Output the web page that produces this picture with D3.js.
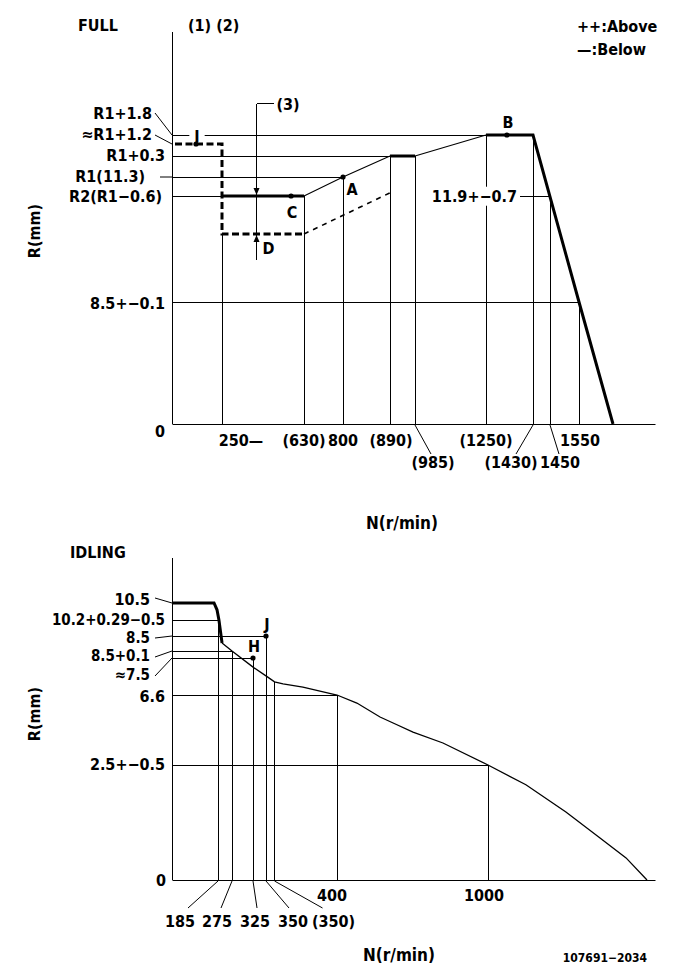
<!DOCTYPE html>
<html><head><meta charset="utf-8">
<script src="https://cdn.jsdelivr.net/npm/d3@7"></script>
<style>
body{margin:0;background:#fff}
text{font-family:"DejaVu Sans Condensed","DejaVu Sans",sans-serif;font-stretch:condensed;font-weight:bold;font-size:16px;fill:#000}
</style></head>
<body><svg id="c" width="681" height="979"></svg>
<script>
// ---------------- DATA ----------------
// FULL chart
const fullTickN      = [250, 630, 800, 890, 985, 1250, 1430, 1450, 1550];
const fullTickLabels = ["250—", "(630)", "800", "(890)", "(985)", "(1250)", "(1430)", "1450", "1550"];
const fullTickTopR   = [10.1, 10.7, 11.3, 11.6, 11.6, 13.1, 13.1, null, 8.5]; // null = meets curve
const fullLevelR      = [13.1, 12.5, 11.6, 11.3, 10.7, 8.5];
const fullLevelLabels = ["R1+1.8", "≈R1+1.2", "R1+0.3", "R1(11.3)", "R2(R1−0.6)", "8.5+−0.1"];
const fullLevelToN    = [1250, null, 890, 800, 250, 1550];
const fullCurveN = [250, 630, 800, 890, 985, 1250, 1430, 1550, 1660];
const fullCurveR = [10.7, 10.7, 11.3, 11.6, 11.6, 13.1, 13.1, 8.5, 0];
const fullDashN  = [15, 250, 250, 630, 890];
const fullDashR  = [12.5, 12.5, 10.1, 10.1, 10.8];
const fullPointNames = ["I", "C", "A", "B"];
const fullPointN     = [120, 570, 800, 1330];
const fullPointR     = [12.5, 10.7, 11.3, 13.1];
const fullDroopLabel = {n: 1450, text: "11.9+−0.7"};
const fullArrowN = 410, fullArrowTopR = 15.2, fullArrowBotR = 9.5;

// IDLING chart
const idleTickN      = [185, 275, 325, 350, 356, 400, 1000];
const idleTickLabels = ["185", "275", "325", "350", "(350)", "400", "1000"];
const idleTickTopR   = [10.2, 8.2, 7.5, 8.5, 6.92, 6.6, 2.5];
const idleLevelR      = [10.5, 10.2, 8.5, 8.2, 7.5, 6.6, 2.5];
const idleLevelLabels = ["10.5", "10.2+0.29−0.5", "8.5", "8.5+0.1", "≈7.5", "6.6", "2.5+−0.5"];
const idleLevelToN    = [null, 185, 350, 275, 325, 400, 1000];
const idleCurveN = [0, 169, 181, 191, 211, 275, 327, 351, 356, 362, 376, 400, 479, 571, 623, 702, 821, 1000, 1143, 1294, 1419, 1521, 1600];
const idleCurveR = [10.5, 10.5, 10.38, 10.2, 8.36, 8.2, 7.26, 7.04, 6.92, 6.87, 6.79, 6.6, 6.13, 5.31, 4.96, 4.43, 3.79, 2.5, 2.07, 1.48, 0.93, 0.48, 0];
const idleThickUntilN = 211;
const idlePointNames = ["H", "J"];
const idlePointN     = [325, 350];
const idlePointR     = [7.5, 8.5];

// ---------------- LAYOUT ----------------
const L = {
  full: {xN:[0,250,630,800,890,985,1250,1430,1450,1550,1660,1800],
         xPx:[172,222,304,343,390,415,486,533,550,579,613,655],
         yR:[0,8.5,10.1,10.7,11.3,11.6,12.5,13.1],
         yPx:[424,302,234,196,177,156,144,135], top:32},
  idle: {xN:[0,185,275,325,350,400,1000,1600,1640],
         xPx:[172,218,232,253,266,337,488,647,655],
         yR:[0,2.5,6.6,7.5,8.2,8.5,10.2,10.5],
         yPx:[880,765,695,658,651,636,620,603], top:558}
};
const fullLevelLayout = [
  {end:152, dy:-16, leader:[155,-22]},
  {end:152, dy:-4,  leader:[155,-9]},
  {end:165, dy:5},
  {end:145, dy:5,   leader:[160,0]},
  {end:162, dy:6},
  {end:165, dy:7}
];
const idleLevelLayout = [
  {end:150, dy:2,  leader:[155,-5]},
  {end:165, dy:5,  size:15},
  {end:150, dy:7,  leader:[155,2], size:15},
  {end:150, dy:10, leader:[155,6], size:15},
  {end:150, dy:22, leader:[155,18], size:15},
  {end:165, dy:7},
  {end:165, dy:5}
];
const fullTickLayout = [
  {row:0, dx:19}, {row:0, dx:0}, {row:0, dx:0}, {row:0, dx:1}, {row:1, dx:18, ldx:16},
  {row:0, dx:0}, {row:1, dx:-22, ldx:-17}, {row:1, dx:10, ldx:9}, {row:0, dx:1}
];
const idleTickLayout = [
  {row:1, dx:-38, ldx:-30}, {row:1, dx:-15, ldx:-11}, {row:1, dx:2, ldx:4},
  {row:1, dx:27, ldx:23}, {row:1, dx:59, ldx:48}, {row:0, dx:-5}, {row:0, dx:-4}
];

// ---------------- DRAW ----------------
const svg = d3.select("#c");
const THICK = 3, THIN = 1.1;

const fx = d3.scaleLinear().domain(L.full.xN).range(L.full.xPx);
const fy = d3.scaleLinear().domain(L.full.yR).range(L.full.yPx);
const ix = d3.scaleLinear().domain(L.idle.xN).range(L.idle.xPx);
const iy = d3.scaleLinear().domain(L.idle.yR).range(L.idle.yPx);

function hline(g, x1, x2, y, w) {
  g.append("line").attr("x1", x1).attr("x2", x2).attr("y1", y).attr("y2", y)
   .attr("stroke", "#000").attr("stroke-width", w || 1).attr("shape-rendering", "crispEdges");
}
function vline(g, x, y1, y2, w) {
  g.append("line").attr("x1", x).attr("x2", x).attr("y1", y1).attr("y2", y2)
   .attr("stroke", "#000").attr("stroke-width", w || 1).attr("shape-rendering", "crispEdges");
}
function sline(g, x1, y1, x2, y2, w) {
  g.append("line").attr("x1", x1).attr("y1", y1).attr("x2", x2).attr("y2", y2)
   .attr("stroke", "#000").attr("stroke-width", w || 1);
}
function txt(g, x, y, s, anchor, size) {
  return g.append("text").attr("x", x).attr("y", y).attr("text-anchor", anchor || "start")
    .style("font-size", (size || 16) + "px").text(s);
}
function drawRuns(g, pts, weightFn, dash) {
  let runs = [], cur = null;
  for (let i = 0; i < pts.length - 1; i++) {
    const w = weightFn(pts[i], pts[i + 1]);
    if (!cur || cur.w !== w) { cur = {w, p:[pts[i]]}; runs.push(cur); }
    cur.p.push(pts[i + 1]);
  }
  runs.forEach(r => {
    const p = g.append("path").attr("d", d3.line()(r.p)).attr("fill", "none")
      .attr("stroke", "#000").attr("stroke-width", r.w).attr("stroke-linejoin", "miter");
    if (dash) p.attr("stroke-dasharray", r.w > 2 ? "7,3.5" : "5,5");
  });
}
function yOnCurve(pts, px) {
  for (let i = 0; i < pts.length - 1; i++) {
    const [x0, y0] = pts[i], [x1, y1] = pts[i + 1];
    if (px >= x0 && px <= x1 && x1 > x0) return y0 + (px - x0) / (x1 - x0) * (y1 - y0);
  }
  return null;
}
function dot(g, x, y) { g.append("circle").attr("cx", x).attr("cy", y).attr("r", 2.6).attr("fill", "#000"); }
function labelBg(g, x, y, s, anchor, pad, capOnly) {
  const t = txt(g, x, y, s, anchor);
  const b = t.node().getBBox();
  const y0 = capOnly ? y - 13 : b.y, h = capOnly ? 9 : b.height;
  g.append("rect").attr("x", b.x - pad).attr("y", y0).attr("width", b.width + 2 * pad)
    .attr("height", h).attr("fill", "#fff");
  t.raise();
  return t;
}

// ===== FULL =====
const gF = svg.append("g");
const fAxisX = fx(0);
gF.append("g").attr("transform", `translate(0,${fy(0)})`)
  .call(d3.axisBottom(fx).tickValues([]).tickSizeOuter(0))
  .select(".domain").attr("stroke-width", 1);
vline(gF, fAxisX, L.full.top, fy(0));

const fCurvePts = fullCurveN.map((n, i) => [fx(n), fy(fullCurveR[i])]);

fullLevelR.forEach((r, i) => {
  const y = fy(r), lay = fullLevelLayout[i];
  if (fullLevelToN[i] !== null) hline(gF, fAxisX, fx(fullLevelToN[i]), y);
  txt(gF, lay.end, y + lay.dy, fullLevelLabels[i], "end");
  if (lay.leader) sline(gF, lay.leader[0], y + lay.leader[1], fAxisX, y, 1);
});
fullTickN.forEach((n, i) => {
  const x = fx(n);
  const top = fullTickTopR[i] === null ? yOnCurve(fCurvePts, x) : fy(fullTickTopR[i]);
  vline(gF, x, top, fy(0));
  const lay = fullTickLayout[i];
  if (lay.row === 0) txt(gF, x + lay.dx, 446, fullTickLabels[i], "middle");
  else { txt(gF, x + lay.dx, 468, fullTickLabels[i], "middle"); sline(gF, x, fy(0) + 1, x + lay.ldx, 454, 1); }
});
txt(gF, 160, 437, "0", "middle");

const fPointLayer = gF.append("g");
const fDashPts = fullDashN.map((n, i) => [fx(n), fy(fullDashR[i])]);
drawRuns(gF, fDashPts, (a, b) => b[1] < a[1] && b[0] > a[0] ? 1.6 : THICK, true);
drawRuns(gF, fCurvePts, (a, b) => b[1] < a[1] ? THIN : THICK, false);

{
  const x = fx(fullDroopLabel.n), y = yOnCurve(fCurvePts, x);
  labelBg(gF, x - 33, y + 5, fullDroopLabel.text, "end", 1);
  hline(gF, x - 30, x, y);
}
fullPointNames.forEach((nm, i) => {
  const x = fx(fullPointN[i]), y = fy(fullPointR[i]);
  if (nm === "I") labelBg(fPointLayer, x + 1, y - 2, nm, "middle", 5, true);
  dot(gF, x, y);
  if (nm === "C") txt(gF, x + 1, y + 22, nm, "middle");
  if (nm === "A") txt(gF, x + 9, y + 18, nm, "middle");
  if (nm === "B") txt(gF, x + 1, y - 7, nm, "middle");
});
{
  const x = fx(fullArrowN), yt = fy(fullArrowTopR), yb = fy(fullArrowBotR);
  vline(gF, x, yt, yb);
  hline(gF, x, x + 17, yt);
  txt(gF, x + 20, yt + 6, "(3)", "start");
  const yR2 = fy(10.7), yD = fy(10.1);
  gF.append("path").attr("d", `M${x - 3},${yR2 - 8}L${x + 3},${yR2 - 8}L${x},${yR2 - 1}Z`).attr("fill", "#000");
  gF.append("path").attr("d", `M${x - 3},${yD + 8}L${x + 3},${yD + 8}L${x},${yD + 1}Z`).attr("fill", "#000");
  txt(gF, x + 6, yD + 20, "D", "start");
}
txt(gF, 78, 31, "FULL", "start");
txt(gF, 188, 31, "(1) (2)", "start");
txt(gF, 577, 32, "++:Above", "start");
txt(gF, 577, 55, "—:Below", "start");
txt(gF, 0, 0, "R(mm)", "middle", 16).attr("transform", "translate(40,231) rotate(-90)");
txt(gF, 402, 529, "N(r/min)", "middle", 17);

// ===== IDLING =====
const gI = svg.append("g");
const iAxisX = ix(0);
gI.append("g").attr("transform", `translate(0,${iy(0)})`)
  .call(d3.axisBottom(ix).tickValues([]).tickSizeOuter(0))
  .select(".domain").attr("stroke-width", 1);
vline(gI, iAxisX, L.idle.top, iy(0));

idleLevelR.forEach((r, i) => {
  const y = iy(r), lay = idleLevelLayout[i];
  if (idleLevelToN[i] !== null) hline(gI, iAxisX, ix(idleLevelToN[i]), y);
  txt(gI, lay.end, y + lay.dy, idleLevelLabels[i], "end", lay.size || 16);
  if (lay.leader) sline(gI, lay.leader[0], y + lay.leader[1], iAxisX, y, 1);
});
idleTickN.forEach((n, i) => {
  const x = ix(n), lay = idleTickLayout[i];
  vline(gI, x, iy(idleTickTopR[i]), iy(0));
  if (lay.row === 0) txt(gI, x + lay.dx, 901, idleTickLabels[i], "middle");
  else { txt(gI, x + lay.dx, 927, idleTickLabels[i], "middle"); sline(gI, x, iy(0) + 1, x + lay.ldx, 908, 1); }
});
txt(gI, 161, 886, "0", "middle");

const iPts = idleCurveN.map((n, i) => [ix(n), iy(idleCurveR[i])]);
const iThick = ix(idleThickUntilN);
drawRuns(gI, iPts, (a, b) => b[0] <= iThick + 0.01 ? THICK : 1.3, false);

idlePointNames.forEach((nm, i) => {
  const x = ix(idlePointN[i]), y = iy(idlePointR[i]);
  dot(gI, x, y);
  txt(gI, x + 1, y - 6, nm, "middle");
});

txt(gI, 70, 558, "IDLING", "start");
txt(gI, 0, 0, "R(mm)", "middle", 16).attr("transform", "translate(40,714) rotate(-90)");
txt(gI, 399, 961, "N(r/min)", "middle", 17);
txt(gI, 647, 962, "107691−2034", "end", 12);
</script>
</body></html>
